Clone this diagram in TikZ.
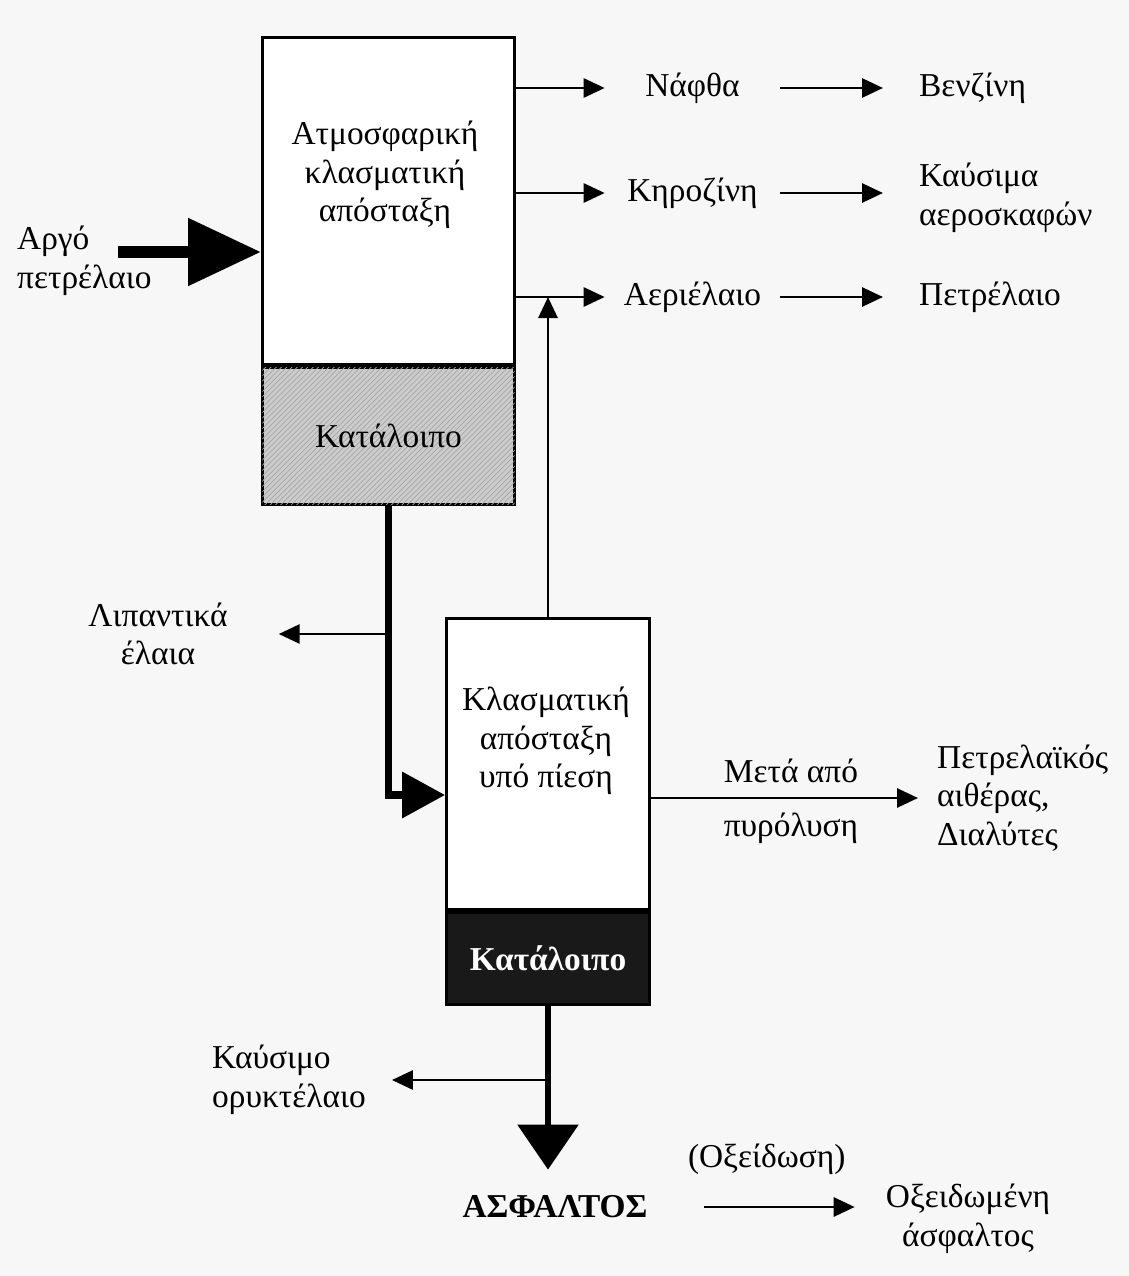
\documentclass[tikz,border=0pt]{standalone}
\usepackage{fontspec}
\setmainfont{Liberation Serif}
\usetikzlibrary{arrows.meta,patterns,positioning}

\begin{document}
\begin{tikzpicture}[>={Triangle[length=4.2mm,width=3.8mm]},font=\fontsize{19}{22}\selectfont,
  box/.style={draw,line width=1.7pt,fill=white,inner sep=0pt,anchor=north west},
  flow/.style={->,line width=1.6pt},
  heavy/.style={line width=4pt,-{Triangle[length=8.6mm,width=9mm]}},
  mid/.style={minimum width=3.5cm,inner sep=0pt},
  prod/.style={anchor=west,align=left},
  txt/.style={align=center}]
\fill[gray!6] (0,0) rectangle (22.58,-25.52);
\useasboundingbox (0,0) rectangle (22.58,-25.52);

% columns
\node[box,minimum width=5.04cm,minimum height=6.54cm] (atm) at (5.22,-0.72) {};
\node[box,minimum width=5.04cm,minimum height=2.74cm,fill=gray!40,
  postaction={pattern=north east lines,pattern color=gray!70},below=0pt of atm] (res1) {Κατάλοιπο};
\node[box,minimum width=4.06cm,minimum height=5.82cm] (vac) at (8.9,-12.34) {};
\node[box,minimum width=4.06cm,minimum height=1.84cm,fill=black!90,text=white,
  font=\fontsize{19}{22}\selectfont\bfseries,below=0pt of vac] (res2) {Κατάλοιπο};
\node[txt] (atmtxt) at (7.7,-3.5) {Ατμοσφαρική\\κλασματική\\απόσταξη};
\node[txt] (vactxt) at (10.92,-14.82) {Κλασματική\\απόσταξη\\υπό πίεση};

% feed
\node[prod] (crude) at (0.22,-5.22) {Αργό\\πετρέλαιο};
\coordinate (crudein) at (2.36,-5.04);
\draw[line width=6.8pt,-{Triangle[length=14.6mm,width=13mm]}] (crudein) -- (crudein -| atm.west);

% top fractions
\node[mid] (naphtha) at (13.85,-1.76) {Νάφθα};
\node[mid] (kero) at (13.85,-3.86) {Κηροζίνη};
\node[mid] (gasoil) at (13.85,-5.94) {Αεριέλαιο};
\node[prod] (benz) at (18.26,-1.76) {Βενζίνη};
\node[prod] (jet) at (18.26,-3.96) {Καύσιμα\\αεροσκαφών};
\node[prod] (petrol) at (18.26,-5.94) {Πετρέλαιο};
\draw[flow] (atm.east |- naphtha) -- (naphtha);
\draw[flow] (atm.east |- kero) -- (kero);
\draw[flow] (atm.east |- gasoil) -- (gasoil);
\draw[flow,shorten >=6mm] (naphtha) -- (benz);
\draw[flow,shorten >=6mm] (kero.east) -- (kero.east -| jet.west);
\draw[flow,shorten >=6mm] (gasoil) -- (petrol);
\draw[flow] (vac.north) -- (vac.north |- gasoil);

% residue to vacuum column
\coordinate (vacin) at (8.9,-15.9);
\draw[heavy] (res1.south) |- (vacin);
\node[txt] (lube) at (3.16,-12.68) {Λιπαντικά\\έλαια};
\draw[flow,shorten >=9mm] (res1.south |- lube) -- (lube);

\node[prod] (solv) at (18.62,-15.96) {Πετρελαϊκός\\αιθέρας,\\Διαλύτες};
\draw[flow,shorten >=2.6mm] (vac.east |- solv) -- (solv)
  node[midway,above=1.5mm] (lbla) {Μετά από}
  node[midway,below=1.5mm] (lblb) {πυρόλυση};

% bottoms
\node[font=\fontsize{19}{22}\selectfont\bfseries] (asph) at (11.1,-24.14) {ΑΣΦΑΛΤΟΣ};
\draw[line width=3.4pt,-{Triangle[length=9mm,width=12mm]},shorten >=4mm] (res2.south) -- (res2.south |- asph.north);
\node[prod] (fuel) at (4.12,-21.6) {Καύσιμο\\ορυκτέλαιο};
\draw[flow,shorten >=4mm] (res2.south |- fuel) -- (fuel);
\node[txt] (oxasph) at (19.36,-24.38) {Οξειδωμένη\\άσφαλτος};
\draw[flow,shorten <=10mm,shorten >=5mm] (asph.east) -- (asph.east -| oxasph.west)
  node[midway,above=5mm] (oxlbl) {(Οξείδωση)};
\end{tikzpicture}
\end{document}
